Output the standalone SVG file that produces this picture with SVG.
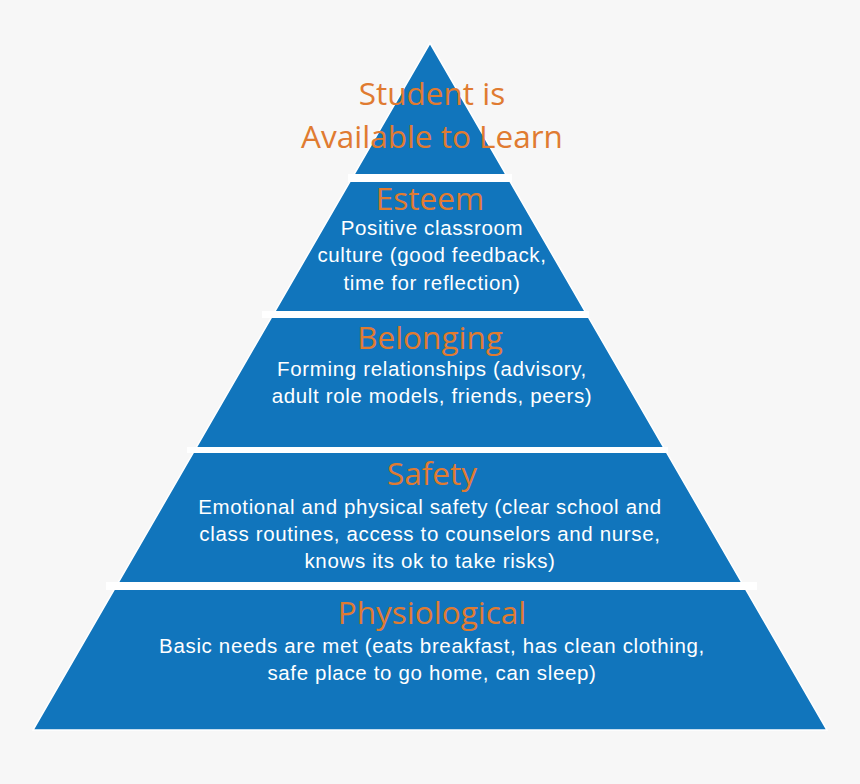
<svg xmlns="http://www.w3.org/2000/svg" width="860" height="784" viewBox="0 0 860 784">
<style>
.bg{fill:#f7f7f7}
.pyr{fill:#1175bc;stroke:#ffffff;stroke-width:1.5}
.gap{fill:#ffffff}
.h{font-family:"Open Sans","Liberation Sans",sans-serif;fill:#e07b31;text-anchor:middle;font-size:31.5px}
.b{font-family:"Liberation Sans",Arial,sans-serif;fill:#ffffff;text-anchor:middle;font-size:20.5px;letter-spacing:0.65px}
</style>
<rect class="bg" x="0" y="0" width="860" height="784"/>
<g id="pyramid">
<polygon class="pyr" points="430,43 827,730 33,730"/>
</g>
<g id="separators">
<rect class="gap" x="348" y="174" width="164" height="8"/>
<rect class="gap" x="262" y="311" width="327" height="7"/>
<rect class="gap" x="187" y="447" width="481" height="6"/>
<rect class="gap" x="106" y="582" width="651" height="8"/>
</g>
<g id="top">
<text class="h" x="432" y="105">Student is</text>
<text class="h" x="432" y="148">Available to Learn</text>
</g>
<g id="esteem">
<text class="h" x="430" y="210">Esteem</text>
<text class="b" x="432" y="235">Positive classroom</text>
<text class="b" x="432" y="262">culture (good feedback,</text>
<text class="b" x="432" y="290">time for reflection)</text>
</g>
<g id="belonging">
<text class="h" x="430" y="349">Belonging</text>
<text class="b" x="432" y="376">Forming relationships (advisory,</text>
<text class="b" x="432" y="403">adult role models, friends, peers)</text>
</g>
<g id="safety">
<text class="h" x="432" y="485">Safety</text>
<text class="b" x="430" y="514">Emotional and physical safety (clear school and</text>
<text class="b" x="430" y="541">class routines, access to counselors and nurse,</text>
<text class="b" x="430" y="568">knows its ok to take risks)</text>
</g>
<g id="physiological">
<text class="h" x="432" y="624">Physiological</text>
<text class="b" x="432" y="653">Basic needs are met (eats breakfast, has clean clothing,</text>
<text class="b" x="432" y="680">safe place to go home, can sleep)</text>
</g>
</svg>
